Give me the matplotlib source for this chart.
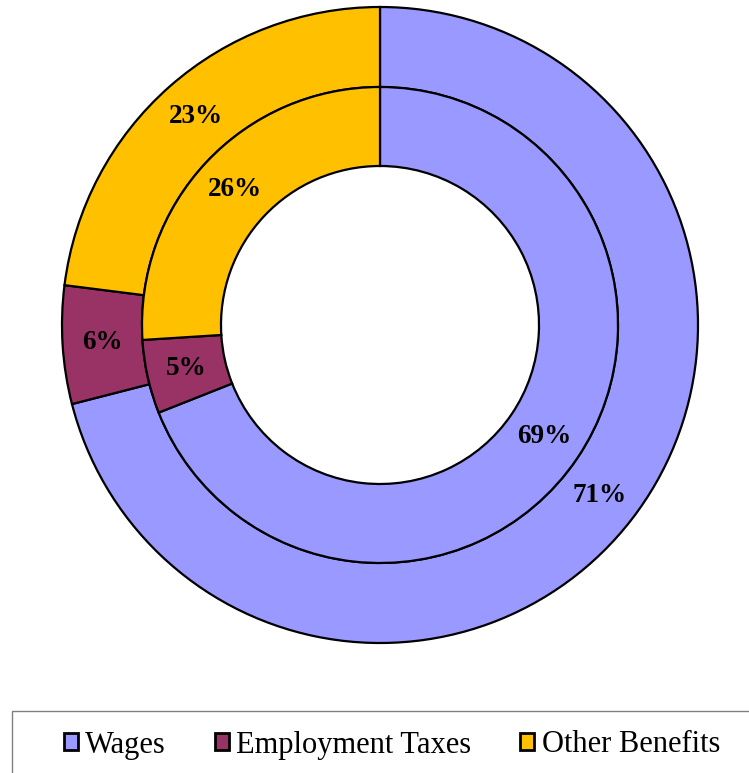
import matplotlib
matplotlib.use("Agg")
import matplotlib.pyplot as plt
from matplotlib.patches import Rectangle, Patch

plt.rcParams['font.family'] = ['Liberation Serif', 'DejaVu Serif']

categories = ["Wages", "Employment Taxes", "Other Benefits"]
outer_values = [71, 6, 23]
inner_values = [69, 5, 26]
colors = ["#9999FF", "#993366", "#FFC000"]

W, H = 749, 773
fig = plt.figure(figsize=(W / 100, H / 100), dpi=100)

cx, cy, R = 380, 325, 318
ax = fig.add_axes([(cx - R) / W, (H - cy - R) / H, 2 * R / W, 2 * R / H])
ax.set_xlim(-1, 1)
ax.set_ylim(-1, 1)
ax.set_aspect('equal')
ax.axis('off')

r_out = 1.0
r_mid = 238 / R
r_in = 159 / R

wedgeprops = dict(edgecolor='black', linewidth=1.6)
ax.pie(outer_values, radius=r_out, colors=colors, startangle=90, counterclock=False,
       wedgeprops=dict(width=r_out - r_mid, **wedgeprops),
       autopct='%d%%', pctdistance=(r_out + r_mid) / 2 / r_out,
       textprops=dict(fontsize=19.5, fontweight='bold', color='black'))
ax.pie(inner_values, radius=r_mid, colors=colors, startangle=90, counterclock=False,
       wedgeprops=dict(width=r_mid - r_in, **wedgeprops),
       autopct='%d%%', pctdistance=(r_mid + r_in) / 2 / r_mid,
       textprops=dict(fontsize=19.5, fontweight='bold', color='black'))
ax.set_xlim(-1, 1)
ax.set_ylim(-1, 1)

# legend frame
fig.patches.append(Rectangle((12 / W, -0.05), 1.0, (H - 711) / H + 0.05,
                             transform=fig.transFigure, fill=False,
                             edgecolor='#808080', linewidth=1.0))

handles = [Patch(facecolor=c, edgecolor='black', linewidth=2.0) for c in colors]
fig.legend(handles, categories, loc='center', bbox_to_anchor=(392 / W, (H - 745) / H),
           ncol=3, frameon=False, fontsize=22, handlelength=0.45, handleheight=0.45,
           handletextpad=0.25, columnspacing=1.6)

fig.savefig("out.png", dpi=100)
